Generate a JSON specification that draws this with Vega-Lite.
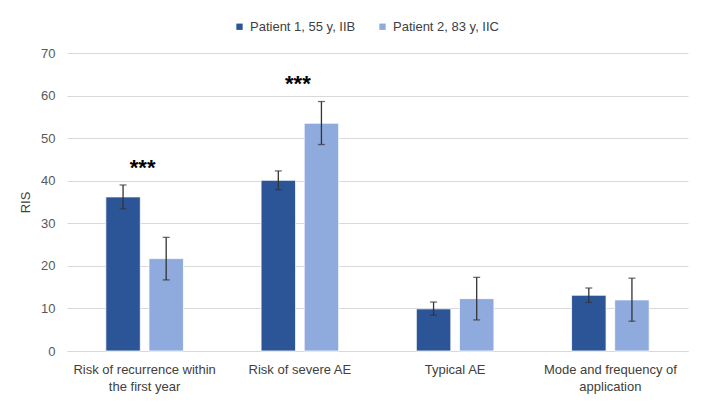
{
  "$schema": "https://vega.github.io/schema/vega-lite/v6.json",
  "width": 621,
  "height": 298,
  "autosize": {"type": "none"},
  "padding": {"left": 67, "top": 53, "right": 20, "bottom": 64},
  "background": "white",
  "config": {
    "font": "Liberation Sans",
    "view": {"stroke": null},
    "axis": {"labelFont": "Liberation Sans", "titleFont": "Liberation Sans"}
  },
  "data": {
    "values": [
      {"category": "Risk of recurrence within the first year", "patient": "Patient 1, 55 y, IIB", "value": 36.2, "lo": 33.4, "hi": 39.0},
      {"category": "Risk of recurrence within the first year", "patient": "Patient 2, 83 y, IIC", "value": 21.7, "lo": 16.7, "hi": 26.7},
      {"category": "Risk of severe AE", "patient": "Patient 1, 55 y, IIB", "value": 40.1, "lo": 37.9, "hi": 42.3},
      {"category": "Risk of severe AE", "patient": "Patient 2, 83 y, IIC", "value": 53.5, "lo": 48.5, "hi": 58.6},
      {"category": "Typical AE", "patient": "Patient 1, 55 y, IIB", "value": 9.9, "lo": 8.4, "hi": 11.5},
      {"category": "Typical AE", "patient": "Patient 2, 83 y, IIC", "value": 12.3, "lo": 7.3, "hi": 17.3},
      {"category": "Mode and frequency of application", "patient": "Patient 1, 55 y, IIB", "value": 13.1, "lo": 11.4, "hi": 14.8},
      {"category": "Mode and frequency of application", "patient": "Patient 2, 83 y, IIC", "value": 12.0, "lo": 7.0, "hi": 17.1}
    ]
  },
  "encoding": {
    "x": {
      "field": "category",
      "type": "nominal",
      "sort": null,
      "scale": {"paddingInner": 0.5, "paddingOuter": 0.25},
      "axis": {
        "title": null,
        "labelAngle": 0,
        "labelFontSize": 13,
        "labelColor": "#404040",
        "labelPadding": 12,
        "ticks": false,
        "domainColor": "#d9d9d9",
        "labelLineHeight": 17,
        "labelExpr": "datum.value == 'Risk of recurrence within the first year' ? ['Risk of recurrence within', 'the first year'] : datum.value == 'Mode and frequency of application' ? ['Mode and frequency of', 'application'] : datum.value"
      }
    }
  },
  "layer": [
    {
      "mark": {"type": "bar", "stroke": "#ffffff", "strokeWidth": 0.8},
      "encoding": {
        "xOffset": {"field": "patient", "type": "nominal", "scale": {"paddingInner": 0.2, "paddingOuter": 0}},
        "y": {
          "field": "value",
          "type": "quantitative",
          "scale": {"domain": [0, 70]},
          "axis": {
            "title": "RIS",
            "titleFontSize": 13,
            "titleFontWeight": "normal",
            "titleColor": "#404040",
            "titlePadding": 8,
            "values": [0, 10, 20, 30, 40, 50, 60, 70],
            "labelFontSize": 13,
            "labelColor": "#595959",
            "labelPadding": 12,
            "ticks": false,
            "domain": false,
            "gridColor": "#d9d9d9",
            "gridWidth": 1
          }
        },
        "color": {
          "field": "patient",
          "type": "nominal",
          "scale": {"range": ["#2c5597", "#8faadc"]},
          "legend": {
            "title": null,
            "orient": "none",
            "direction": "horizontal",
            "legendX": 166,
            "legendY": -33,
            "symbolType": "square",
            "symbolSize": 40,
            "symbolStrokeWidth": 0,
            "labelFontSize": 13,
            "labelColor": "#404040",
            "labelOffset": 4,
            "columnPadding": 20,
            "padding": 0
          }
        }
      }
    },
    {
      "mark": {"type": "rule", "color": "#333333", "strokeWidth": 1.3},
      "encoding": {
        "xOffset": {"field": "patient", "type": "nominal", "scale": {"paddingInner": 0.2, "paddingOuter": 0}},
        "y": {"field": "lo", "type": "quantitative"},
        "y2": {"field": "hi"}
      }
    },
    {
      "mark": {"type": "tick", "color": "#333333", "thickness": 1.3, "size": 7, "orient": "horizontal"},
      "encoding": {
        "xOffset": {"field": "patient", "type": "nominal", "scale": {"paddingInner": 0.2, "paddingOuter": 0}},
        "y": {"field": "lo", "type": "quantitative"}
      }
    },
    {
      "mark": {"type": "tick", "color": "#333333", "thickness": 1.3, "size": 7, "orient": "horizontal"},
      "encoding": {
        "xOffset": {"field": "patient", "type": "nominal", "scale": {"paddingInner": 0.2, "paddingOuter": 0}},
        "y": {"field": "hi", "type": "quantitative"}
      }
    },
    {
      "data": {
        "values": [
          {"category": "Risk of recurrence within the first year", "y": 43.0, "label": "***"},
          {"category": "Risk of severe AE", "y": 62.8, "label": "***"}
        ]
      },
      "mark": {"type": "text", "fontSize": 22, "fontWeight": "bold", "color": "#000000", "baseline": "middle", "align": "center", "dx": -2},
      "encoding": {
        "y": {"field": "y", "type": "quantitative"},
        "text": {"field": "label"}
      }
    }
  ]
}
